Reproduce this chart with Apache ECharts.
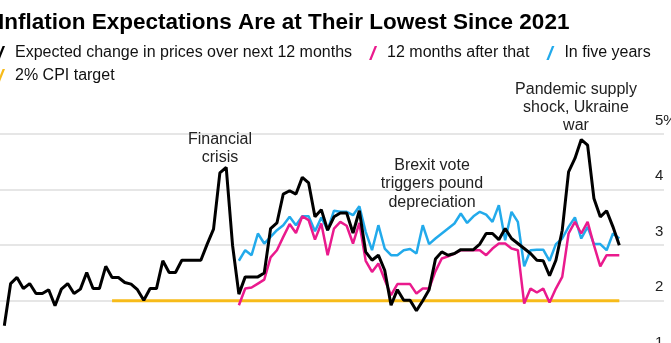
<!DOCTYPE html>
<html><head><meta charset="utf-8">
<script src="https://cdn.jsdelivr.net/npm/echarts@6/dist/echarts.min.js"></script>
<style>html,body{margin:0;padding:0;background:#fff;overflow:hidden}#c{width:671px;height:380px}</style>
</head><body><div id="c"></div>
<script>
const categories = ['1999Q4',
'2000Q1','2000Q2','2000Q3','2000Q4','2001Q1','2001Q2','2001Q3','2001Q4','2002Q1','2002Q2','2002Q3','2002Q4',
'2003Q1','2003Q2','2003Q3','2003Q4','2004Q1','2004Q2','2004Q3','2004Q4','2005Q1','2005Q2','2005Q3','2005Q4',
'2006Q1','2006Q2','2006Q3','2006Q4','2007Q1','2007Q2','2007Q3','2007Q4','2008Q1','2008Q2','2008Q3','2008Q4',
'2009Q1','2009Q2','2009Q3','2009Q4','2010Q1','2010Q2','2010Q3','2010Q4','2011Q1','2011Q2','2011Q3','2011Q4',
'2012Q1','2012Q2','2012Q3','2012Q4','2013Q1','2013Q2','2013Q3','2013Q4','2014Q1','2014Q2','2014Q3','2014Q4',
'2015Q1','2015Q2','2015Q3','2015Q4','2016Q1','2016Q2','2016Q3','2016Q4','2017Q1','2017Q2','2017Q3','2017Q4',
'2018Q1','2018Q2','2018Q3','2018Q4','2019Q1','2019Q2','2019Q3','2019Q4','2020Q1','2020Q2','2020Q3','2020Q4',
'2021Q1','2021Q2','2021Q3','2021Q4','2022Q1','2022Q2','2022Q3','2022Q4','2023Q1','2023Q2','2023Q3','2023Q4',
'2024Q1'];

// Expected change in prices over next 12 months
const next12 = [1.55,2.31,2.42,2.22,2.31,2.13,2.13,2.2,1.91,2.21,2.31,2.13,2.21,2.51,2.22,2.22,2.62,2.42,2.42,2.33,
2.3,2.2,2.01,2.22,2.22,2.72,2.51,2.51,2.73,2.73,2.73,2.73,3.02,3.29,4.3,4.4,3.0,2.12,2.43,2.43,
2.43,2.5,3.3,3.4,3.92,3.98,3.92,4.22,4.12,3.51,3.64,3.27,3.51,3.58,3.58,3.22,3.62,2.88,2.73,2.82,
2.55,1.92,2.2,2.01,2.01,1.82,2.0,2.2,2.75,2.88,2.82,2.85,2.92,2.92,2.92,3.02,3.21,3.21,3.1,3.3,
3.12,3.03,2.94,2.85,2.73,2.72,2.45,2.73,3.27,4.32,4.56,4.9,4.8,3.84,3.51,3.62,3.33,3.0];

// 12 months after that (starts 2009Q1)
const after12 = [null,null,null,null,null,null,null,null,null,null,null,null,null,null,null,null,null,null,null,null,
null,null,null,null,null,null,null,null,null,null,null,null,null,null,null,null,null,1.92,2.22,2.24,
2.31,2.38,2.78,2.91,3.15,3.38,3.22,3.52,3.45,3.1,3.39,2.82,3.3,3.42,3.35,3.03,3.4,2.72,2.52,2.67,
2.38,2.1,2.3,2.3,2.3,2.13,2.22,2.22,2.53,2.76,2.8,2.85,2.91,2.91,2.91,2.91,2.82,2.94,3.03,3.03,
2.94,2.91,1.95,2.22,2.15,2.22,1.97,2.22,2.43,3.21,3.42,3.21,3.42,3.0,2.62,2.82,2.82,2.82];

// In five years (starts 2009Q1)
const fiveYears = [null,null,null,null,null,null,null,null,null,null,null,null,null,null,null,null,null,null,null,null,
null,null,null,null,null,null,null,null,null,null,null,null,null,null,null,null,null,2.72,2.91,2.82,
3.21,3.03,3.15,3.27,3.36,3.51,3.36,3.52,3.52,3.25,3.5,3.27,3.62,3.6,3.6,3.54,3.7,3.24,2.91,3.36,
2.94,2.82,2.82,2.91,2.93,2.85,3.36,3.02,3.12,3.21,3.3,3.39,3.57,3.4,3.52,3.6,3.55,3.42,3.72,3.09,
3.6,3.42,2.62,2.91,2.92,2.92,2.72,3.02,3.12,3.33,3.5,3.12,3.33,3.02,3.02,2.91,3.21,3.12];

// 2% CPI target
const targetValue = 2;
const targetStart = '2004Q1';
const targetEnd = '2024Q1';

const yTicks = [1, 2, 3, 4, 5];

const FONT = 'Liberation Sans';
const slash = 'path://M0,14 L2.4,14 L8,0 L5.6,0 Z';
const C_BLACK = '#000000', C_PINK = '#ea1a8d', C_BLUE = '#22aaeb', C_YELLOW = '#f7bb1a';
const NAMES = ['Expected change in prices over next 12 months', '12 months after that', 'In five years', '2% CPI target'];

const legendBase = {
  orient: 'horizontal', icon: slash, itemWidth: 10, itemHeight: 14, itemGap: 17,
  textStyle: {fontFamily: FONT, fontSize: 16, color: '#111', padding: [0, 0, 0, 4]}
};

const chart = echarts.init(document.getElementById('c'), null, {renderer: 'canvas'});
chart.setOption({
  animation: false,
  backgroundColor: '#fff',
  textStyle: {fontFamily: FONT},
  title: {
    text: 'Inflation Expectations Are at Their Lowest Since 2021',
    left: -7, top: 6,
    textStyle: {fontFamily: FONT, fontSize: 22.5, fontWeight: 'bold', color: '#000'}
  },
  legend: [
    Object.assign({}, legendBase, {left: -8, top: 40, data: NAMES.slice(0, 3)}),
    Object.assign({}, legendBase, {left: -8, top: 63, data: NAMES.slice(3)})
  ],
  grid: [
    {left: -10, right: 7, top: 134, bottom: 23.6, containLabel: false, outerBoundsMode: 'none'},
    {left: 4.3, right: 51.7, top: 134, bottom: 23.6, containLabel: false, outerBoundsMode: 'none'}
  ],
  xAxis: [
    {gridIndex: 0, type: 'value', show: false, min: 0, max: 1},
    {gridIndex: 1, type: 'category', data: categories, boundaryGap: false, show: false}
  ],
  yAxis: [
    {gridIndex: 0, type: 'value', min: yTicks[0], max: yTicks[yTicks.length-1], interval: 1, position: 'right',
     axisLine: {show: false}, axisTick: {show: false},
     splitLine: {show: true, lineStyle: {color: '#dedede', width: 1.5}},
     axisLabel: {show: true, margin: -9, align: 'left', verticalAlign: 'bottom', padding: [0,0,6,0],
       fontFamily: FONT, fontSize: 15, color: '#222',
       formatter: v => v === yTicks[yTicks.length-1] ? v + '%' : String(v)}},
    {gridIndex: 1, type: 'value', min: yTicks[0], max: yTicks[yTicks.length-1], show: false, splitLine: {show: false}}
  ],
  series: [
    {name: NAMES[3], type: 'line', xAxisIndex: 1, yAxisIndex: 1, showSymbol: false, z: 2,
     data: [[targetStart, targetValue], [targetEnd, targetValue]],
     itemStyle: {color: C_YELLOW}, lineStyle: {color: C_YELLOW, width: 3}},
    {name: NAMES[2], type: 'line', xAxisIndex: 1, yAxisIndex: 1, showSymbol: false, z: 3,
     data: fiveYears, itemStyle: {color: C_BLUE}, lineStyle: {color: C_BLUE, width: 2.5}},
    {name: NAMES[1], type: 'line', xAxisIndex: 1, yAxisIndex: 1, showSymbol: false, z: 4,
     data: after12, itemStyle: {color: C_PINK}, lineStyle: {color: C_PINK, width: 2.5}},
    {name: NAMES[0], type: 'line', xAxisIndex: 1, yAxisIndex: 1, showSymbol: false, z: 5,
     data: next12, itemStyle: {color: C_BLACK}, lineStyle: {color: C_BLACK, width: 3}}
  ],
  graphic: [
    {type: 'text', x: 220, y: 131, z: 10, style: {text: 'Financial\ncrisis', fontFamily: FONT, fontSize: 16, lineHeight: 18, fill: '#222', align: 'center', verticalAlign: 'top'}},
    {type: 'text', x: 432, y: 156, z: 10, style: {text: 'Brexit vote\ntriggers pound\ndepreciation', fontFamily: FONT, fontSize: 16, lineHeight: 18.5, fill: '#222', align: 'center', verticalAlign: 'top'}},
    {type: 'text', x: 576, y: 81, z: 10, style: {text: 'Pandemic supply\nshock, Ukraine\nwar', fontFamily: FONT, fontSize: 16, lineHeight: 18, fill: '#222', align: 'center', verticalAlign: 'top'}}
  ]
});
</script></body></html>
